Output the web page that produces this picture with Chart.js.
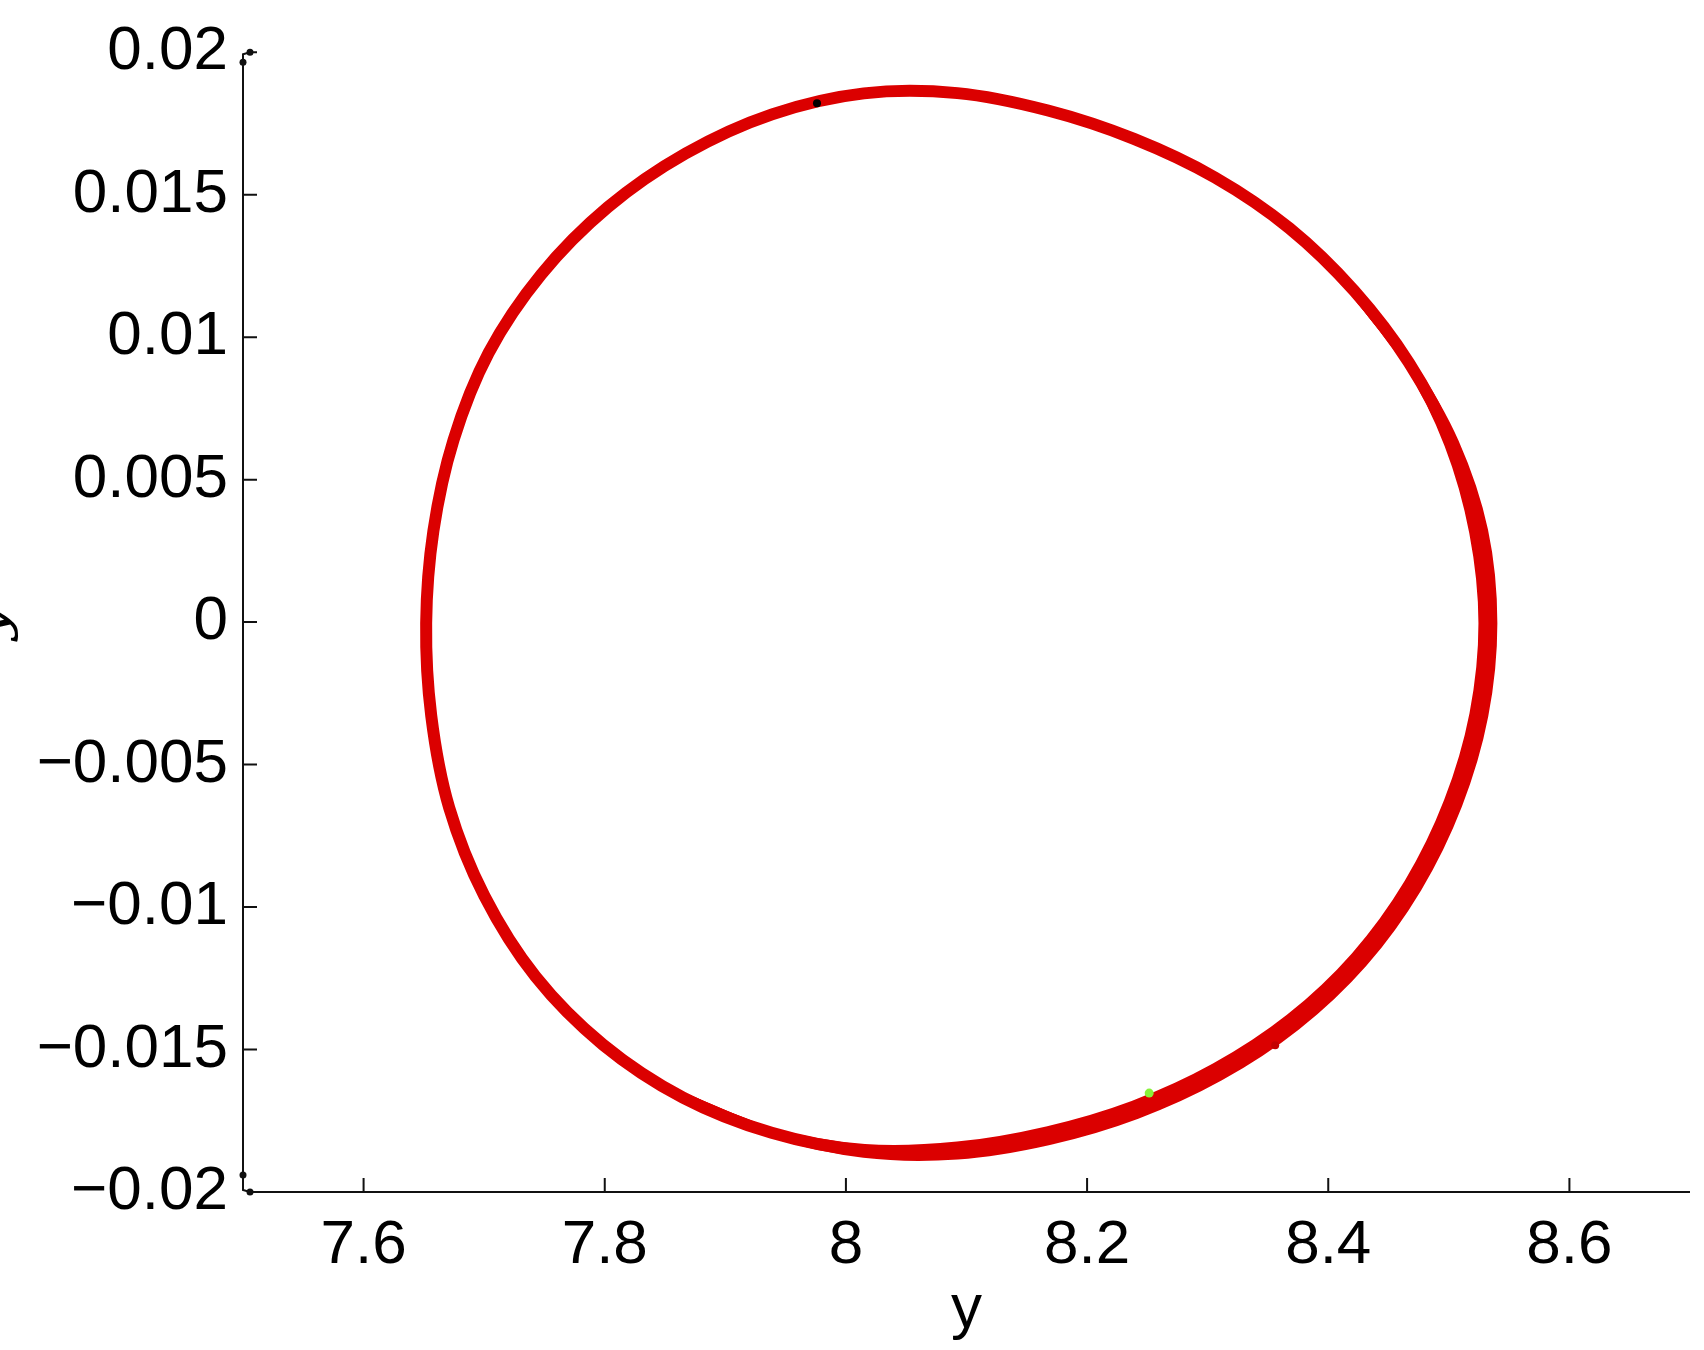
<!DOCTYPE html>
<html>
<head>
<meta charset="utf-8">
<script src="https://cdn.jsdelivr.net/npm/chart.js@4/dist/chart.umd.min.js"></script>
<style>
  html, body { margin: 0; padding: 0; background: #ffffff; }
  #wrap { width: 1704px; height: 1350px; position: relative; }
</style>
</head>
<body>
<div id="wrap"><canvas id="c" width="1704" height="1350"></canvas></div>
<script>
// ---- data ----
// closed trajectory (y, y-dot), read around the loop, starting at the rightmost point
const loopY = [8.5324, 8.5249, 8.5035, 8.4702, 8.4256, 8.3707, 8.3079, 8.2397, 8.1676, 8.0925, 8.0152, 7.9384, 7.8649, 7.7986, 7.7426, 7.7001, 7.6710, 7.6561, 7.6519, 7.6579, 7.6746, 7.7037, 7.7473, 7.8026, 7.8672, 7.9387, 8.0149, 8.0925, 8.1676, 8.2389, 8.3062, 8.3678, 8.4215, 8.4670, 8.5023, 8.5247];
const loopYdot = [-0.00004, -0.003255, -0.006354, -0.009246, -0.011843, -0.014040, -0.015792, -0.017116, -0.018023, -0.018545, -0.018557, -0.017923, -0.016688, -0.014832, -0.012440, -0.009606, -0.006516, -0.003286, -0.00004, 0.003202, 0.006392, 0.009448, 0.012201, 0.014563, 0.016450, 0.017820, 0.018556, 0.018563, 0.017952, 0.016957, 0.015600, 0.013822, 0.011626, 0.009097, 0.006266, 0.003184];
// outer edge of the widened band (other cycles, right / bottom side)
const outerY = [8.4215, 8.4670, 8.5043, 8.5284, 8.5361, 8.5286, 8.5070, 8.4734, 8.4285, 8.3731, 8.3098, 8.2410, 8.1683, 8.0925, 8.0149, 7.9384, 7.8649];
const outerYdot = [0.011626, 0.009097, 0.006296, 0.003211, -0.00004, -0.003282, -0.006408, -0.009325, -0.011944, -0.014161, -0.015929, -0.017264, -0.018178, -0.018685, -0.018626, -0.017923, -0.016688];
// inner edge of the widened band
const innerY = [8.4215, 8.4670, 8.5004, 8.5210, 8.5287, 8.5212, 8.5000, 8.4670, 8.4227, 8.3683, 8.3060, 8.2384, 8.1670, 8.0925, 8.0155, 7.9384, 7.8649];
const innerYdot = [0.011626, 0.009097, 0.006236, 0.003157, -0.00004, -0.003228, -0.006300, -0.009167, -0.011742, -0.013919, -0.015655, -0.016968, -0.017868, -0.018405, -0.018488, -0.017923, -0.016688];
// marker points
const blackDot = [7.976, 0.01821];
const greenDot = [8.2515, -0.01653];
const redDot = [8.356, -0.01485];
// axis ticks
const xTicks = [7.6, 7.8, 8.0, 8.2, 8.4, 8.6];
const yTicks = [-0.02, -0.015, -0.01, -0.005, 0, 0.005, 0.01, 0.015, 0.02];
const xRange = [7.5, 8.7];
const yRange = [-0.02, 0.02];
const xTitle = 'y';
const yTitle = 'ẏ';

const toPts = (xs, ys) => xs.map((v, i) => ({ x: v, y: ys[i] }));
// closed loop: wrap one point on each side so the spline joins smoothly
function closedPts(xs, ys) {
  const p = toPts(xs, ys), n = p.length;
  return [p[n - 1], ...p, p[0], p[1]];
}
const RED = '#db0000';
const FONT = '"Liberation Sans", Arial, Helvetica, sans-serif';

function fmt(v) {
  if (Math.abs(v) < 1e-12) return '0';
  let s = String(Math.round(v * 100000) / 100000);
  if (s.startsWith('-')) s = '\u2212' + s.slice(1);
  return s;
}

const axisPlugin = {
  id: 'axisDecor',
  afterDraw(chart) {
    const ctx = chart.ctx;
    const xs = chart.scales.x, ys = chart.scales.y;
    const left = xs.getPixelForValue(xRange[0]);
    const right = xs.right;
    const top = ys.getPixelForValue(yRange[1]);
    const bottom = ys.getPixelForValue(yRange[0]);
    ctx.save();
    ctx.strokeStyle = '#111';
    ctx.fillStyle = '#111';
    ctx.lineWidth = 2;
    ctx.beginPath();
    ctx.moveTo(left, top + 10); ctx.lineTo(left, bottom - 17);
    ctx.moveTo(left, bottom - 17); ctx.lineTo(left, bottom - 2); ctx.lineTo(left + 7, bottom);
    ctx.stroke();
    ctx.beginPath();
    ctx.moveTo(left + 7, bottom); ctx.lineTo(right, bottom);
    ctx.stroke();
    ctx.beginPath();
    ctx.moveTo(left, top + 10); ctx.lineTo(left, top + 2); ctx.lineTo(left + 7, top);
    ctx.lineTo(left + 14, top);
    ctx.stroke();
    ctx.beginPath();
    xTicks.forEach(v => { const p = xs.getPixelForValue(v); ctx.moveTo(p, bottom); ctx.lineTo(p, bottom - 14); });
    yTicks.forEach(v => { if (v === yRange[0] || v === yRange[1]) return; const p = ys.getPixelForValue(v); ctx.moveTo(left, p); ctx.lineTo(left + 14, p); });
    ctx.stroke();
    [[left + 7, top], [left, top + 10], [left, bottom - 17], [left + 7, bottom]].forEach(([a, b]) => {
      ctx.beginPath(); ctx.arc(a, b, 3.5, 0, Math.PI * 2); ctx.fill();
    });
    // y title (rotated, mostly outside the picture like in the reference)
    ctx.font = 'italic 62px "DejaVu Serif", "Liberation Serif", serif';
    ctx.fillStyle = '#000';
    ctx.translate(4, (top + bottom) / 2);
    ctx.rotate(-Math.PI / 2);
    ctx.textAlign = 'center';
    ctx.textBaseline = 'alphabetic';
    ctx.fillText(yTitle, 0, 0);
    ctx.restore();
  }
};

const lineStyle = { type: 'line', showLine: true, fill: false, borderColor: RED, borderWidth: 12, pointRadius: 0, tension: 0.34, capBezierPoints: false, borderCapStyle: 'round', borderJoinStyle: 'round' };
const bandStyle = Object.assign({}, lineStyle, { borderWidth: 10 });
const dotStyle = { type: 'line', showLine: false, pointBorderWidth: 0 };

new Chart(document.getElementById('c'), {
  type: 'line',
  data: {
    datasets: [
      Object.assign({ data: [{ x: greenDot[0], y: greenDot[1] }], pointRadius: 4.5, pointBackgroundColor: '#88f23a' }, dotStyle),
      Object.assign({ data: [{ x: blackDot[0], y: blackDot[1] }], pointRadius: 4, pointBackgroundColor: '#000' }, dotStyle),
      Object.assign({ data: [{ x: redDot[0], y: redDot[1] }], pointRadius: 4, pointBackgroundColor: '#c40000' }, dotStyle),
      Object.assign({ data: toPts(outerY, outerYdot) }, bandStyle),
      Object.assign({ data: toPts(innerY, innerYdot) }, bandStyle),
      Object.assign({ data: closedPts(loopY, loopYdot) }, lineStyle)
    ]
  },
  options: {
    responsive: false,
    animation: false,
    events: [],
    elements: { line: { tension: 0.34, capBezierPoints: false } },
    layout: { padding: { top: 51, right: 14, left: 0, bottom: 0 } },
    plugins: { legend: { display: false }, tooltip: { enabled: false } },
    scales: {
      x: {
        type: 'linear', min: xRange[0], max: xRange[1],
        grid: { display: false, drawTicks: false },
        border: { display: false },
        afterBuildTicks: s => { s.ticks = xTicks.map(v => ({ value: v })); },
        afterFit: s => { s.height = 158; },
        ticks: { color: '#000', font: { family: FONT, size: 62 }, padding: 17, maxRotation: 0, callback: v => fmt(v) },
        title: { display: true, text: xTitle, color: '#000', font: { family: FONT, size: 62 }, padding: { top: 0, bottom: 3 } }
      },
      y: {
        type: 'linear', min: yRange[0], max: yRange[1],
        grid: { display: false, drawTicks: false },
        border: { display: false },
        afterBuildTicks: s => { s.ticks = yTicks.map(v => ({ value: v })); },
        afterFit: s => { s.width = 243; },
        ticks: { color: '#000', font: { family: FONT, size: 62 }, padding: 15, callback: v => fmt(v) }
      }
    }
  },
  plugins: [axisPlugin]
});
</script>
</body>
</html>
